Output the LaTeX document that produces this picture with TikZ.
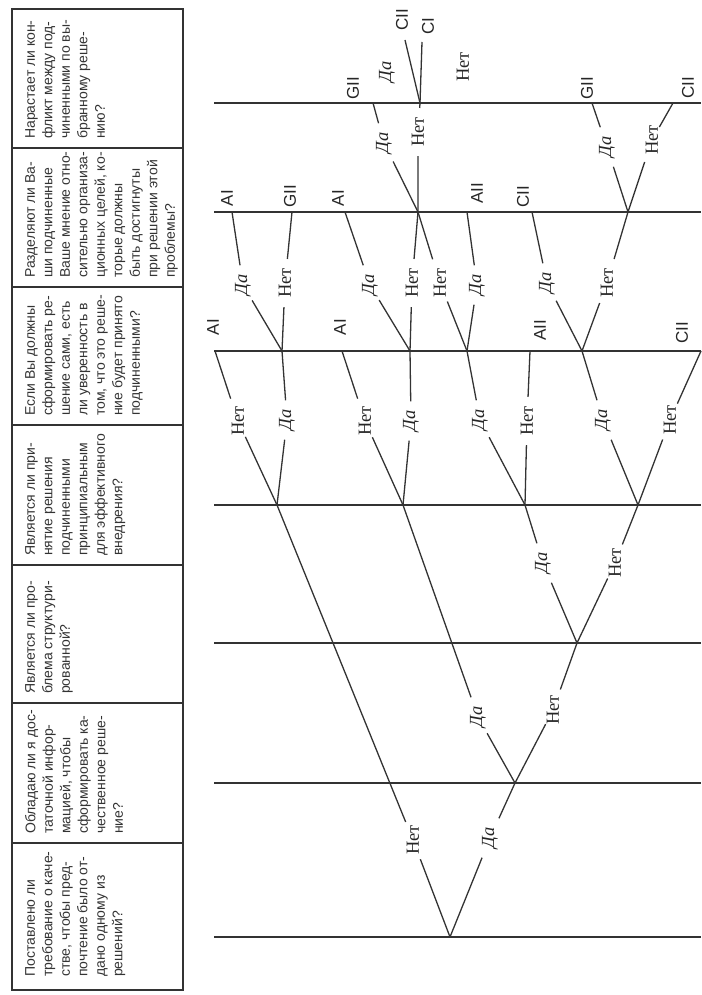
\documentclass[tikz,border=0pt]{standalone}
\usepackage{fontspec}
\setmainfont{Liberation Serif}
\setsansfont{Liberation Sans}

\begin{document}
\begin{tikzpicture}[x=1pt, y=-1pt,
  ln/.style={line width=1.3pt, black!80},
  quest/.style={rotate=90, anchor=north west, inner sep=0pt, align=left,
    text=black!80, font=\sffamily\fontsize{14}{17.5}\selectfont},
  no/.style={rotate=90, inner xsep=9pt, inner ysep=1pt, text=black!85,
    font=\fontsize{18.5}{20}\selectfont},
  yes/.style={no, font=\fontsize{18.5}{20}\selectfont\itshape},
  res/.style={rotate=90, inner sep=0pt, text=black!85,
    font=\sffamily\fontsize{17}{18}\selectfont}]
  \useasboundingbox (0,0) rectangle (701,995);

  % Question table
  \draw[ln] (12,9) rectangle (183,990);
  \foreach \y in {148,287,425,565,703,843}
    \draw[ln] (12,\y) -- (183,\y);
  \node[quest] (qg) at (25,139) {Нарастает ли кон-\\фликт между под-\\чиненными по вы-\\бранному реше-\\нию?};
  \node[quest] (qf) at (25,278) {Разделяют ли Ва-\\ши подчиненные\\Ваше мнение отно-\\сительно организа-\\ционных целей, ко-\\торые должны\\быть достигнуты\\при решении этой\\проблемы?};
  \node[quest] (qe) at (25,416) {Если Вы должны\\сформировать ре-\\шение сами, есть\\ли уверенность в\\том, что это реше-\\ние будет принято\\подчиненными?};
  \node[quest] (qd) at (25,556) {Является ли при-\\нятие решения\\подчиненными\\принципиальным\\для эффективного\\внедрения?};
  \node[quest] (qc) at (25,694) {Является ли про-\\блема структури-\\рованной?};
  \node[quest] (qb) at (25,834) {Обладаю ли я дос-\\таточной инфор-\\мацией, чтобы\\сформировать ка-\\чественное реше-\\ние?};
  \node[quest] (qa) at (25,977) {Поставлено ли\\требование о каче-\\стве, чтобы пред-\\почтение было от-\\дано одному из\\решений?};

  % Question levels
  \foreach \y in {103,212,351,505,643,783,937}
    \draw[ln] (214,\y) -- (701,\y);

  % Decision points
  \coordinate (a)  at (450,937);
  \coordinate (b1) at (515,783);
  \coordinate (c1) at (577,643);
  \coordinate (d1) at (277,505);
  \coordinate (d2) at (403,505);
  \coordinate (d3) at (525,505);
  \coordinate (d4) at (638,505);
  \coordinate (e1) at (282,351);
  \coordinate (e2) at (410,351);
  \coordinate (e3) at (467,351);
  \coordinate (e4) at (582,351);
  \coordinate (f1) at (418,212);
  \coordinate (f2) at (628,212);
  \coordinate (g1) at (420,103);

  % Branch ends
  \coordinate (x1)  at (215,351);
  \coordinate (x2)  at (342,351);
  \coordinate (x3)  at (530,351);
  \coordinate (x4)  at (701,351);
  \coordinate (x5)  at (232,212);
  \coordinate (x6)  at (292,212);
  \coordinate (x7)  at (345,212);
  \coordinate (x8)  at (467,212);
  \coordinate (x9)  at (532,212);
  \coordinate (x10) at (373,103);
  \coordinate (x11) at (592,103);
  \coordinate (x12) at (673,103);
  \coordinate (x13) at (405,40);
  \coordinate (x14) at (422,42);

  % Answer labels
  \node[no]  (a-no)   at (413,840) {Нет};
  \node[yes] (a-yes)  at (490,838) {Да};
  \node[yes] (b1-yes) at (478,717) {Да};
  \node[no]  (b1-no)  at (553,710) {Нет};
  \node[yes] (c1-yes) at (543,563) {Да};
  \node[no]  (c1-no)  at (615,563) {Нет};
  \node[no]  (d1-no)  at (238,421) {Нет};
  \node[yes] (d1-yes) at (287,420) {Да};
  \node[no]  (d2-no)  at (365,421) {Нет};
  \node[yes] (d2-yes) at (411,421) {Да};
  \node[yes] (d3-yes) at (480,420) {Да};
  \node[no]  (d3-no)  at (527,421) {Нет};
  \node[yes] (d4-yes) at (603,420) {Да};
  \node[no]  (d4-no)  at (670,420) {Нет};
  \node[yes] (e1-yes) at (243,285) {Да};
  \node[no]  (e1-no)  at (285,283) {Нет};
  \node[yes] (e2-yes) at (370,285) {Да};
  \node[no]  (e2-no)  at (412,283) {Нет};
  \node[no]  (e3-no)  at (440,283) {Нет};
  \node[yes] (e3-yes) at (477,285) {Да};
  \node[yes] (e4-yes) at (547,283) {Да};
  \node[no]  (e4-no)  at (607,283) {Нет};
  \node[yes] (f1-yes) at (384,143) {Да};
  \node[no]  (f1-no)  at (418,132) {Нет};
  \node[yes] (f2-yes) at (607,147) {Да};
  \node[no]  (f2-no)  at (652,140) {Нет};
  \node[yes] (g1-yes) at (387,72)  {Да};
  \node[no]  (g1-no)  at (463,67)  {Нет};

  % Branches
  \draw[ln] (a) -- (a-no) -- (d1);
  \draw[ln] (a) -- (a-yes) -- (b1);
  \draw[ln] (b1) -- (b1-yes) -- (d2);
  \draw[ln] (b1) -- (b1-no) -- (c1);
  \draw[ln] (c1) -- (c1-yes) -- (d3);
  \draw[ln] (c1) -- (c1-no) -- (d4);
  \draw[ln] (d1) -- (d1-no) -- (x1);
  \draw[ln] (d1) -- (d1-yes) -- (e1);
  \draw[ln] (d2) -- (d2-no) -- (x2);
  \draw[ln] (d2) -- (d2-yes) -- (e2);
  \draw[ln] (d3) -- (d3-yes) -- (e3);
  \draw[ln] (d3) -- (d3-no) -- (x3);
  \draw[ln] (d4) -- (d4-yes) -- (e4);
  \draw[ln] (d4) -- (d4-no) -- (x4);
  \draw[ln] (e1) -- (e1-yes) -- (x5);
  \draw[ln] (e1) -- (e1-no) -- (x6);
  \draw[ln] (e2) -- (e2-yes) -- (x7);
  \draw[ln] (e2) -- (e2-no) -- (f1);
  \draw[ln] (e3) -- (e3-no) -- (f1);
  \draw[ln] (e3) -- (e3-yes) -- (x8);
  \draw[ln] (e4) -- (e4-yes) -- (x9);
  \draw[ln] (e4) -- (e4-no) -- (f2);
  \draw[ln] (f1) -- (f1-yes) -- (x10);
  \draw[ln] (f1) -- (f1-no) -- (g1);
  \draw[ln] (f2) -- (f2-yes) -- (x11);
  \draw[ln] (f2) -- (f2-no) -- (x12);
  \draw[ln] (g1) -- (x13);
  \draw[ln] (g1) -- (x14);

  % Decision styles
  \node[res] (r1)  at (213,327) {AI};
  \node[res] (r2)  at (340,327) {AI};
  \node[res] (r3)  at (540,330) {AII};
  \node[res] (r4)  at (682,333) {CII};
  \node[res] (r5)  at (227,198) {AI};
  \node[res] (r6)  at (290,196) {GII};
  \node[res] (r7)  at (338,198) {AI};
  \node[res] (r8)  at (477,193) {AII};
  \node[res] (r9)  at (523,197) {CII};
  \node[res] (r10) at (353,88)  {GII};
  \node[res] (r11) at (587,88)  {GII};
  \node[res] (r12) at (688,88)  {CII};
  \node[res] (r13) at (402,20)  {CII};
  \node[res] (r14) at (428,26)  {CI};
\end{tikzpicture}
\end{document}
